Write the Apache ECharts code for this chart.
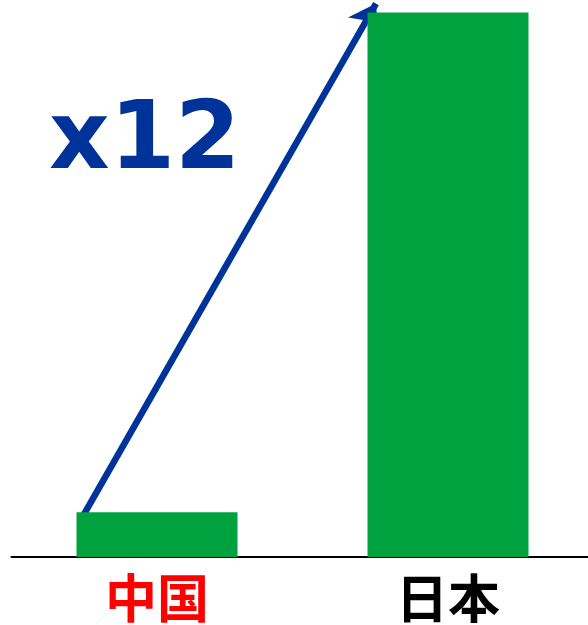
<!DOCTYPE html>
<html><head><meta charset="utf-8">
<script src="https://cdn.jsdelivr.net/npm/echarts@6/dist/echarts.min.js"></script>
<style>html,body{margin:0;padding:0;background:#fff;overflow:hidden}#c{width:600px;height:625px}</style>
</head><body><div id="c"></div>
<script>
const categories = ['中国', '日本'];
const values = [1, 12.18];
const labelColors = ['#FF0000', '#000000'];
const ratioText = 'x12';
// arrow from top of 中国 bar to above 日本 bar (data units on overlay axis)
const arrowStart = [-0.258, 0.873];
const arrowEnd = [0.7526, 12.38];

const chart = echarts.init(document.getElementById('c'));
chart.setOption({
  animation: false,
  title: {
    text: ratioText, left: 44, top: 92,
    textStyle: { fontFamily: 'DejaVu Sans', fontWeight: 'bold', fontSize: 94, color: '#003399' }
  },
  grid: { left: 11.5, width: 582, top: 0, bottom: 68 },
  xAxis: [{
    type: 'category',
    data: categories.map((c, i) => ({ value: c, textStyle: { color: labelColors[i] } })),
    axisLine: { lineStyle: { color: '#000', width: 2 } },
    axisTick: { show: false },
    axisLabel: { fontFamily: 'Noto Sans CJK JP', fontWeight: 'bold', fontSize: 52, margin: 15 }
  }, {
    type: 'value', min: -0.5, max: 1.5, show: false
  }],
  yAxis: { type: 'value', min: 0, max: 12.46, show: false },
  series: [{
    type: 'bar', data: values, barWidth: 161,
    itemStyle: { color: '#00A23F' }
  }, {
    type: 'lines', coordinateSystem: 'cartesian2d', xAxisIndex: 1, yAxisIndex: 0,
    symbol: ['none', 'arrow'], symbolSize: 26,
    lineStyle: { color: '#003399', width: 6.5, opacity: 1 },
    data: [{ coords: [arrowStart, arrowEnd] }]
  }]
});
</script></body></html>
